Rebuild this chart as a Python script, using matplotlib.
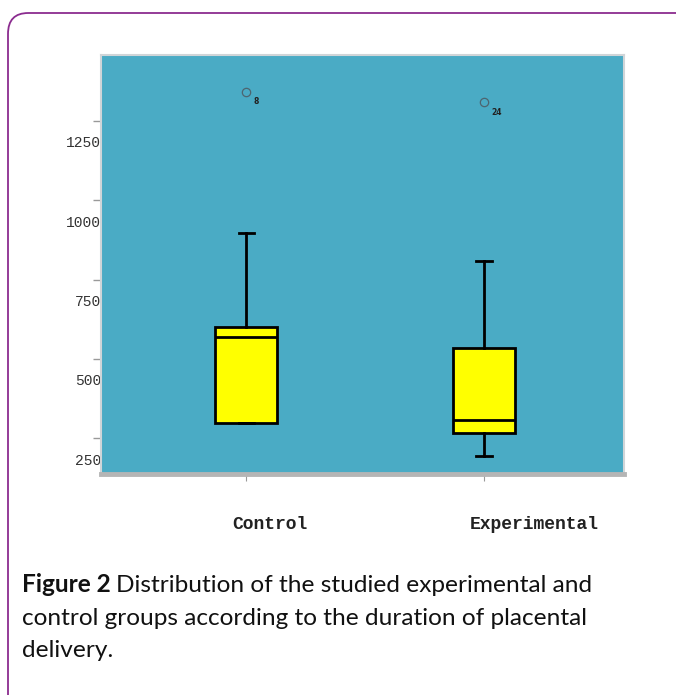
import matplotlib
matplotlib.use("Agg")
import matplotlib.pyplot as plt
from matplotlib.patches import FancyBboxPatch
import matplotlib.transforms as mtransforms

# valeurs (durée de la délivrance placentaire)
groups = ['Control', 'Experimental']
q1 = [363, 332]
medians = [634, 373]
q3 = [666, 600]
whisker_low = [363, 260]
whisker_high = [962, 874]
outliers = [[1408], [1374]]
outlier_ids = ['8', '24']

ytick_values = [250, 500, 750, 1000, 1250]
minor_ticks = [315, 565, 815, 1065, 1315]

panel_color = '#4AABC5'
box_color = '#FFFF00'

fig = plt.figure(figsize=(6.76, 6.95), dpi=100)

# cadre violet arrondi
frame = FancyBboxPatch((8 / 676, -0.05), 1.2, 1.05 - 13 / 695,
                       boxstyle="round,pad=0,rounding_size=0.03",
                       transform=fig.transFigure, facecolor='none',
                       edgecolor='#8B2C8F', linewidth=1.3)
fig.patches.append(frame)

ax = fig.add_axes([101 / 676, 1 - 474 / 695, 523 / 676, 419 / 695])
ax.set_facecolor(panel_color)

stats = []
for i in range(len(groups)):
    stats.append({'label': groups[i], 'q1': q1[i], 'med': medians[i], 'q3': q3[i],
                  'whislo': whisker_low[i], 'whishi': whisker_high[i],
                  'fliers': outliers[i]})

positions = [1, 2]
ax.bxp(stats, positions=positions, widths=0.26, patch_artist=True,
       boxprops=dict(facecolor=box_color, edgecolor='black', linewidth=2),
       medianprops=dict(color='black', linewidth=2),
       whiskerprops=dict(color='black', linewidth=2),
       capprops=dict(color='black', linewidth=2),
       capwidths=0.065,
       flierprops=dict(marker='o', markerfacecolor='none', markeredgecolor='#4d6570',
                       markersize=6, markeredgewidth=0.9))

# numéros des valeurs extrêmes
for i in range(len(groups)):
    for val in outliers[i]:
        ax.annotate(outlier_ids[i], (positions[i], val), xytext=(5, -9),
                    textcoords='offset points', fontsize=5.5, fontweight='bold',
                    color='#222222', family='DejaVu Sans')

ax.set_xlim(0.389, 2.588)
ax.set_ylim(203, 1523)

ax.set_yticks(ytick_values)
ax.set_yticklabels([str(v) for v in ytick_values], family='Liberation Mono',
                   fontsize=10.5, color='#333333')
ax.set_yticks(minor_ticks, minor=True)
ax.tick_params(axis='y', which='major', length=0, pad=0)
ax.tick_params(axis='y', which='minor', length=6, color='#999999', width=1)

ax.set_xticks(positions)
ax.set_xticklabels(groups, family='Liberation Mono', fontweight='bold',
                   fontsize=13, color='#222222', ha='left')
ax.tick_params(axis='x', length=5, color='#999999', pad=25.5)
offset = mtransforms.ScaledTranslation(-14 / 100, 0, fig.dpi_scale_trans)
for lab in ax.get_xticklabels():
    lab.set_transform(lab.get_transform() + offset)

for side in ['top', 'right', 'left']:
    ax.spines[side].set_color('#d0d5d8')
    ax.spines[side].set_linewidth(1.5)
ax.spines['bottom'].set_color('#b5b5b5')
ax.spines['bottom'].set_linewidth(3.5)

# légende de la figure
fig.canvas.draw()
renderer = fig.canvas.get_renderer()
cap_size = 17.6
x0 = 22 / 676
t = fig.text(x0, 1 - 592 / 695, 'Figure 2', fontsize=cap_size, fontweight='bold',
             family='Lato', color='#111111', va='baseline')
bb = t.get_window_extent(renderer)
fig.text((bb.x1 + 5) / 676, 1 - 592 / 695,
         'Distribution of the studied experimental and', fontsize=cap_size,
         family='Lato', color='#111111', va='baseline')
fig.text(x0, 1 - 625 / 695, 'control groups according to the duration of placental',
         fontsize=cap_size, family='Lato', color='#111111', va='baseline')
fig.text(x0, 1 - 657 / 695, 'delivery.', fontsize=cap_size, family='Lato',
         color='#111111', va='baseline')

fig.savefig('out.png', dpi=100)
